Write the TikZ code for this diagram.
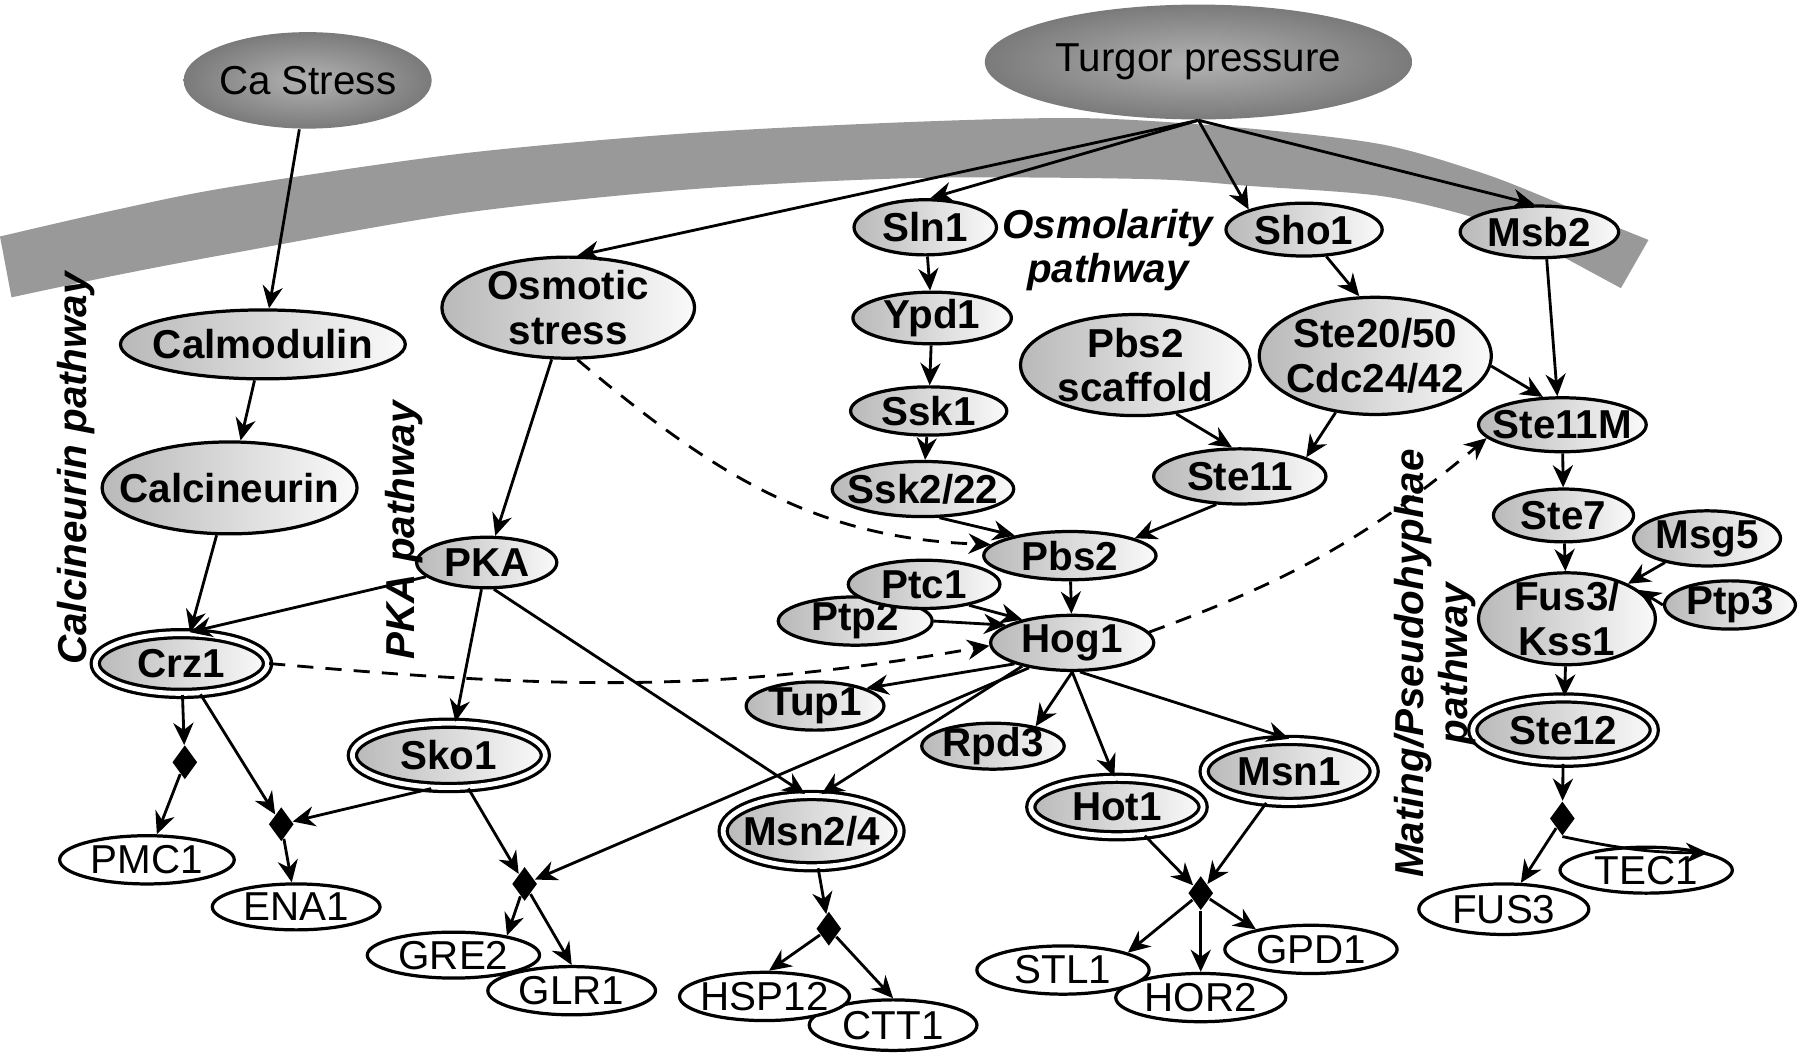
\documentclass[tikz,border=0pt]{standalone}
\usepackage{fontspec}
\setmainfont{Liberation Sans}
\usetikzlibrary{
  arrows.meta,
  shapes.geometric
}
\tikzset{
  stimulus/.style={
    ellipse, inner xsep=-0.4cm, inner ysep=-0.3cm,
    inner color=black!30, outer color=black!52,
    font=\fontsize{10}{11}\selectfont
  },
  protein/.style={
    ellipse, draw, line width=0.8pt,
    inner xsep=-0.4cm, inner ysep=-0.3cm,
    left color=gray!55, right color=gray!4,
    align=center,
    font=\fontsize{10}{11}\selectfont\bfseries
  },
  tf box/.style={
    protein, double, double distance=1.2pt
  },
  gene box/.style={
    ellipse, draw, line width=0.8pt, fill=white,
    inner xsep=-0.4cm, inner ysep=-0.3cm,
    font=\fontsize{10}{11}\selectfont
  },
  junction/.style={
    diamond, fill=black, inner sep=0pt,
    minimum width=0.22cm, minimum height=0.30cm
  },
  sig arrow/.style={
    -{Stealth[length=5.5pt,width=5pt]}, line width=0.7pt
  },
  dashed arrow/.style={
    sig arrow, dash pattern=on 4pt off 3pt
  },
  path label/.style={
    align=center,
    font=\fontsize{10}{11}\selectfont\bfseries\itshape
  },
}

\begin{document}
\begin{tikzpicture}[x=0.01cm, y=0.01cm]

  \useasboundingbox (0,0) rectangle (1568,-923);

  \fill[black!40] plot[smooth] coordinates {(0,-206) (100,-183) (200,-163)
      (400,-134) (600,-116) (800,-106) (950,-103) (1089,-112) (1205,-126)
      (1292,-151) (1351,-174) (1394,-192) (1436,-209)}
    -- (1412,-251)
    -- plot[smooth] coordinates {(1351,-218) (1292,-192) (1205,-171)
      (1089,-162) (1000,-156) (800,-155) (600,-165) (400,-186) (200,-221)
      (100,-240) (10,-259)}
    -- cycle;

  \node[stimulus, minimum width=2.16cm, minimum height=0.84cm]
    (castress) at (268,-70) {Ca Stress};
  \node[stimulus, minimum width=3.72cm, minimum height=1.0cm]
    (turgor) at (1044,-54) {Turgor pressure};

  \node[protein, minimum width=2.48cm, minimum height=0.60cm]
    (calmod) at (229,-300) {Calmodulin};
  \node[protein, minimum width=2.22cm, minimum height=0.80cm]
    (calcin) at (200,-425) {Calcineurin};
  \node[protein, minimum width=2.20cm, minimum height=0.88cm]
    (osmo) at (495,-268) {Osmotic\\stress};
  \node[protein, minimum width=1.22cm, minimum height=0.44cm]
    (pka) at (424,-490) {PKA};
  \node[protein, minimum width=1.24cm, minimum height=0.48cm]
    (sln1) at (806,-198) {Sln1};
  \node[protein, minimum width=1.36cm, minimum height=0.46cm]
    (sho1) at (1136,-200) {Sho1};
  \node[protein, minimum width=1.38cm, minimum height=0.45cm]
    (msb2) at (1341,-202) {Msb2};
  \node[protein, minimum width=1.38cm, minimum height=0.45cm]
    (ypd1) at (812,-277) {Ypd1};
  \node[protein, minimum width=1.36cm, minimum height=0.42cm]
    (ssk1) at (809,-358) {Ssk1};
  \node[protein, minimum width=1.58cm, minimum height=0.48cm]
    (ssk22) at (804,-426) {Ssk2/22};
  \node[protein, minimum width=2.00cm, minimum height=0.88cm]
    (pbsscaf) at (989,-318) {Pbs2\\scaffold};
  \node[protein, minimum width=2.02cm, minimum height=1.02cm]
    (ste20) at (1198,-310) {Ste20/50\\Cdc24/42};
  \node[protein, minimum width=1.50cm, minimum height=0.48cm]
    (ste11) at (1080,-415) {Ste11};
  \node[protein, minimum width=1.46cm, minimum height=0.47cm]
    (ste11m) at (1361,-370) {Ste11M};
  \node[protein, minimum width=1.22cm, minimum height=0.46cm]
    (ste7) at (1362,-449) {Ste7};
  \node[protein, minimum width=1.28cm, minimum height=0.48cm]
    (msg5) at (1487,-469) {Msg5};
  \node[protein, minimum width=1.54cm, minimum height=0.80cm]
    (fus3) at (1365,-539) {Fus3/\\Kss1};
  \node[protein, minimum width=1.14cm, minimum height=0.42cm]
    (ptp3) at (1507,-527) {Ptp3};
  \node[protein, minimum width=1.50cm, minimum height=0.42cm]
    (pbs2) at (932,-484) {Pbs2};
  \node[protein, minimum width=1.34cm, minimum height=0.42cm]
    (ptp2) at (745,-541) {Ptp2};
  \node[protein, minimum width=1.32cm, minimum height=0.42cm]
    (ptc1) at (805,-509) {Ptc1};
  \node[protein, minimum width=1.42cm, minimum height=0.48cm]
    (hog1) at (934,-560) {Hog1};
  \node[protein, minimum width=1.20cm, minimum height=0.42cm]
    (tup1) at (710,-615) {Tup1};
  \node[protein, minimum width=1.24cm, minimum height=0.40cm]
    (rpd3) at (865,-650) {Rpd3};

  \node[tf box, minimum width=1.50cm, minimum height=0.52cm]
    (crz1) at (158,-578) {Crz1};
  \node[tf box, minimum width=1.68cm, minimum height=0.56cm]
    (sko1) at (391,-658) {Sko1};
  \node[tf box, minimum width=1.54cm, minimum height=0.62cm]
    (msn24) at (707,-724) {Msn2/4};
  \node[tf box, minimum width=1.50cm, minimum height=0.50cm]
    (hot1) at (973,-703) {Hot1};
  \node[tf box, minimum width=1.48cm, minimum height=0.54cm]
    (msn1) at (1123,-672) {Msn1};
  \node[tf box, minimum width=1.58cm, minimum height=0.56cm]
    (ste12) at (1362,-636) {Ste12};

  \node[junction] (jpmc) at (161,-664) {};
  \node[junction] (jena) at (245,-718) {};
  \node[junction] (jgre) at (457,-770) {};
  \node[junction] (jhsp) at (722,-809) {};
  \node[junction] (jstl) at (1046,-778) {};
  \node[junction] (jfus) at (1361,-713) {};

  \node[gene box, minimum width=1.52cm, minimum height=0.42cm]
    (pmc1) at (128,-749) {PMC1};
  \node[gene box, minimum width=1.46cm, minimum height=0.40cm]
    (ena1) at (258,-790) {ENA1};
  \node[gene box, minimum width=1.46cm, minimum height=0.42cm]
    (glr1) at (498,-863) {GLR1};
  \node[gene box, minimum width=1.50cm, minimum height=0.40cm]
    (gre2) at (395,-832) {GRE2};
  \node[gene box, minimum width=1.46cm, minimum height=0.44cm]
    (ctt1) at (778,-893) {CTT1};
  \node[gene box, minimum width=1.48cm, minimum height=0.42cm]
    (hsp12) at (666,-868) {HSP12};
  \node[gene box, minimum width=1.48cm, minimum height=0.42cm]
    (hor2) at (1046,-869) {HOR2};
  \node[gene box, minimum width=1.50cm, minimum height=0.42cm]
    (stl1) at (926,-845) {STL1};
  \node[gene box, minimum width=1.50cm, minimum height=0.42cm]
    (gpd1) at (1142,-827) {GPD1};
  \node[gene box, minimum width=1.48cm, minimum height=0.44cm]
    (fus3g) at (1310,-792) {FUS3};
  \node[gene box, minimum width=1.50cm, minimum height=0.40cm]
    (tec1) at (1434,-758) {TEC1};

  \node[path label, rotate=90] (calclab) at (66,-408) {Calcineurin pathway};
  \node[path label, rotate=90] (pkalab) at (352,-462) {PKA pathway};
  \node[path label] (osmolab) at (965,-218) {Osmolarity\\pathway};
  \node[path label, rotate=90] (matlab) at (1250,-578)
    {Mating/Pseudohyphae\\pathway};

  \draw[sig arrow] (castress) -- (calmod);
  \draw[sig arrow] (calmod) -- (calcin);
  \draw[sig arrow] (calcin) -- (crz1);
  \draw[sig arrow] (pka) -- (crz1.75);
  \draw[sig arrow] (turgor.south) -- (osmo.80);
  \draw[sig arrow] (turgor.south) -- (sln1.80);
  \draw[sig arrow] (turgor.south) -- (sho1.160);
  \draw[sig arrow] (turgor.south) -- (msb2.100);
  \draw[sig arrow] (osmo) -- (pka);
  \draw[dashed arrow] (osmo.-80) to[out=-40, in=178] (pbs2.172);

  \draw[sig arrow] (sln1) -- (ypd1);
  \draw[sig arrow] (ypd1) -- (ssk1);
  \draw[sig arrow] (ssk1) -- (ssk22);
  \draw[sig arrow] (ssk22.-60) -- (pbs2.160);
  \draw[sig arrow] (sho1) -- (ste20.105);
  \draw[sig arrow] (ste20.-125) -- (ste11.16);
  \draw[sig arrow] (pbsscaf.-50) -- (ste11.105);
  \draw[sig arrow] (ste11.-130) -- (pbs2.15);
  \draw[sig arrow] (ste20.-5) -- (ste11m.125);
  \draw[sig arrow] (msb2.-75) -- (ste11m.100);
  \draw[sig arrow] (ste11m) -- (ste7);
  \draw[sig arrow] (ste7) -- (fus3);
  \draw[sig arrow] (msg5) -- (fus3);
  \draw[sig arrow] (ptp3.west) -- (fus3.22);
  \draw[sig arrow] (fus3) -- (ste12);
  \draw[sig arrow] (ste12) -- (jfus);
  \draw[sig arrow] (jfus) -- (fus3g);
  \draw[sig arrow] (jfus.south) to[out=-12, in=180] (tec1.north east);

  \draw[sig arrow] (pbs2) -- (hog1);
  \draw[sig arrow] (ptc1.-25) -- (hog1.155);
  \draw[sig arrow] (ptp2.east) -- (hog1.165);
  \draw[dashed arrow] (crz1.east) to[out=-5, in=190] (hog1.182);
  \draw[dashed arrow] (hog1.8) to[out=20, in=220] (ste11m.190);
  \draw[sig arrow] (hog1.200) -- (tup1.19);
  \draw[sig arrow] (hog1.-155) -- (msn24.75);
  \draw[sig arrow] (hog1.-150) -- (jgre);
  \draw[sig arrow] (hog1.south) -- (rpd3.25);
  \draw[sig arrow] (hog1.south) -- (hot1.95);
  \draw[sig arrow] (hog1.-75) -- (msn1.north);

  \draw[sig arrow] (pka) -- (sko1);
  \draw[sig arrow] (pka.-75) -- (msn24.100);
  \draw[sig arrow] (crz1) -- (jpmc);
  \draw[sig arrow] (crz1) -- (jena);
  \draw[sig arrow] (sko1.-118) -- (jena);
  \draw[sig arrow] (sko1) -- (jgre);
  \draw[sig arrow] (jpmc) -- (pmc1);
  \draw[sig arrow] (jena) -- (ena1);
  \draw[sig arrow] (jgre) -- (gre2.20);
  \draw[sig arrow] (jgre) -- (glr1.north);
  \draw[sig arrow] (msn24) -- (jhsp);
  \draw[sig arrow] (jhsp) -- (hsp12.80);
  \draw[sig arrow] (jhsp) -- (ctt1.north);
  \draw[sig arrow] (hot1) -- (jstl);
  \draw[sig arrow] (msn1) -- (jstl);
  \draw[sig arrow] (jstl) -- (stl1.15);
  \draw[sig arrow] (jstl) -- (hor2);
  \draw[sig arrow] (jstl) -- (gpd1.160);

\end{tikzpicture}
\end{document}
